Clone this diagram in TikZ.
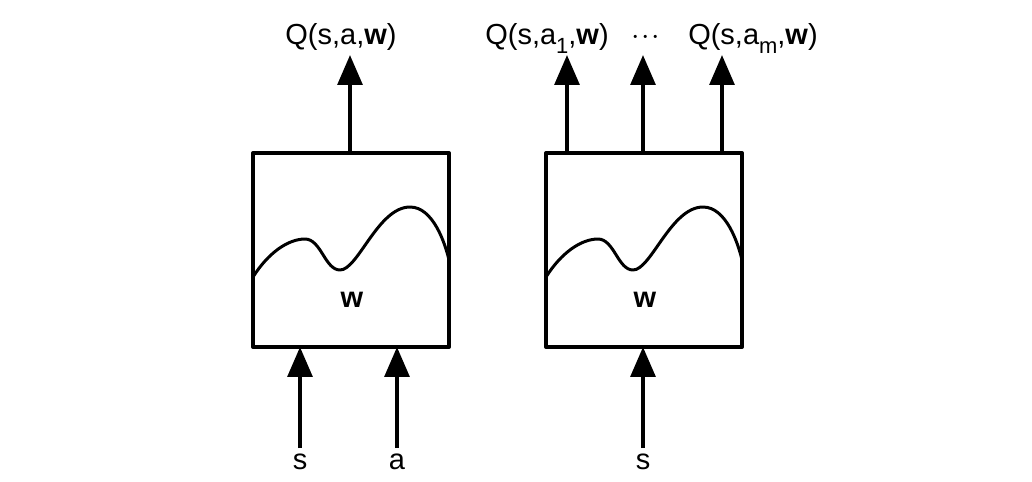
\documentclass[tikz,border=0pt]{standalone}
\usepackage{fontspec}
\setmainfont{Liberation Sans}
\usetikzlibrary{arrows.meta}
\newcommand{\sub}[1]{\raisebox{-0.55ex}{\fontsize{12.5}{14}\selectfont #1}}
\begin{document}
\begin{tikzpicture}[x=0.02cm, y=-0.02cm, font=\fontsize{16.5}{20}\selectfont, line join=round,
	net/.style={draw, line width=2.3pt, minimum width=3.92cm, minimum height=3.88cm, outer sep=0pt, inner sep=0pt},
	arr/.style={-{Triangle[width=14pt,length=17pt]}, line width=2.3pt},
	wave/.style={line width=1.7pt, line cap=round},
	lab/.style={anchor=base, inner sep=0pt}]
	\useasboundingbox (0,0) rectangle (1032,482); % vùng hình
	% hai hộp mạng
	\node[net] (b1) at (351,250) {};
	\node[net] (b2) at (644,250) {};
	\foreach \b in {b1,b2}{
		\begin{scope}[shift={(\b.north west)}]
			\draw[wave] (0,124) .. controls (15,100) and (35,86) .. (52,86) .. controls (68,86) and (72,117) .. (87,117)
				.. controls (105,117) and (125,54) .. (157,54) .. controls (180,54) and (192,90) .. (196,107);
		\end{scope}
	}
	\node[lab] (w1) at (352,308) {\textbf{w}};
	\node[lab] (w2) at (645,308) {\textbf{w}};
	% nhãn đầu ra
	\node[lab] (q1) at (341,45) {Q(s,a,\textbf{w})};
	\node[lab] (q2) at (547,45) {Q(s,a\sub{1},\textbf{w})};
	\node[lab] (qd) at (646,45) {$\cdot\!\cdot\!\cdot$};
	\node[lab] (q3) at (753,45) {Q(s,a\sub{m},\textbf{w})};
	\draw[arr] (b1.north -| 350,0) -- (350,55);
	\foreach \x in {567,643,722} \draw[arr] (\x,153) -- (\x,55);
	% nhãn đầu vào
	\node[lab] (s1) at (300,470) {s};
	\node[lab] (a1) at (397,470) {a};
	\node[lab] (s2) at (643,470) {s};
	\foreach \n in {s1,a1,s2} \draw[arr] ([yshift=0.44cm]\n.base) -- (\n |- b1.south);
\end{tikzpicture}
\end{document}
